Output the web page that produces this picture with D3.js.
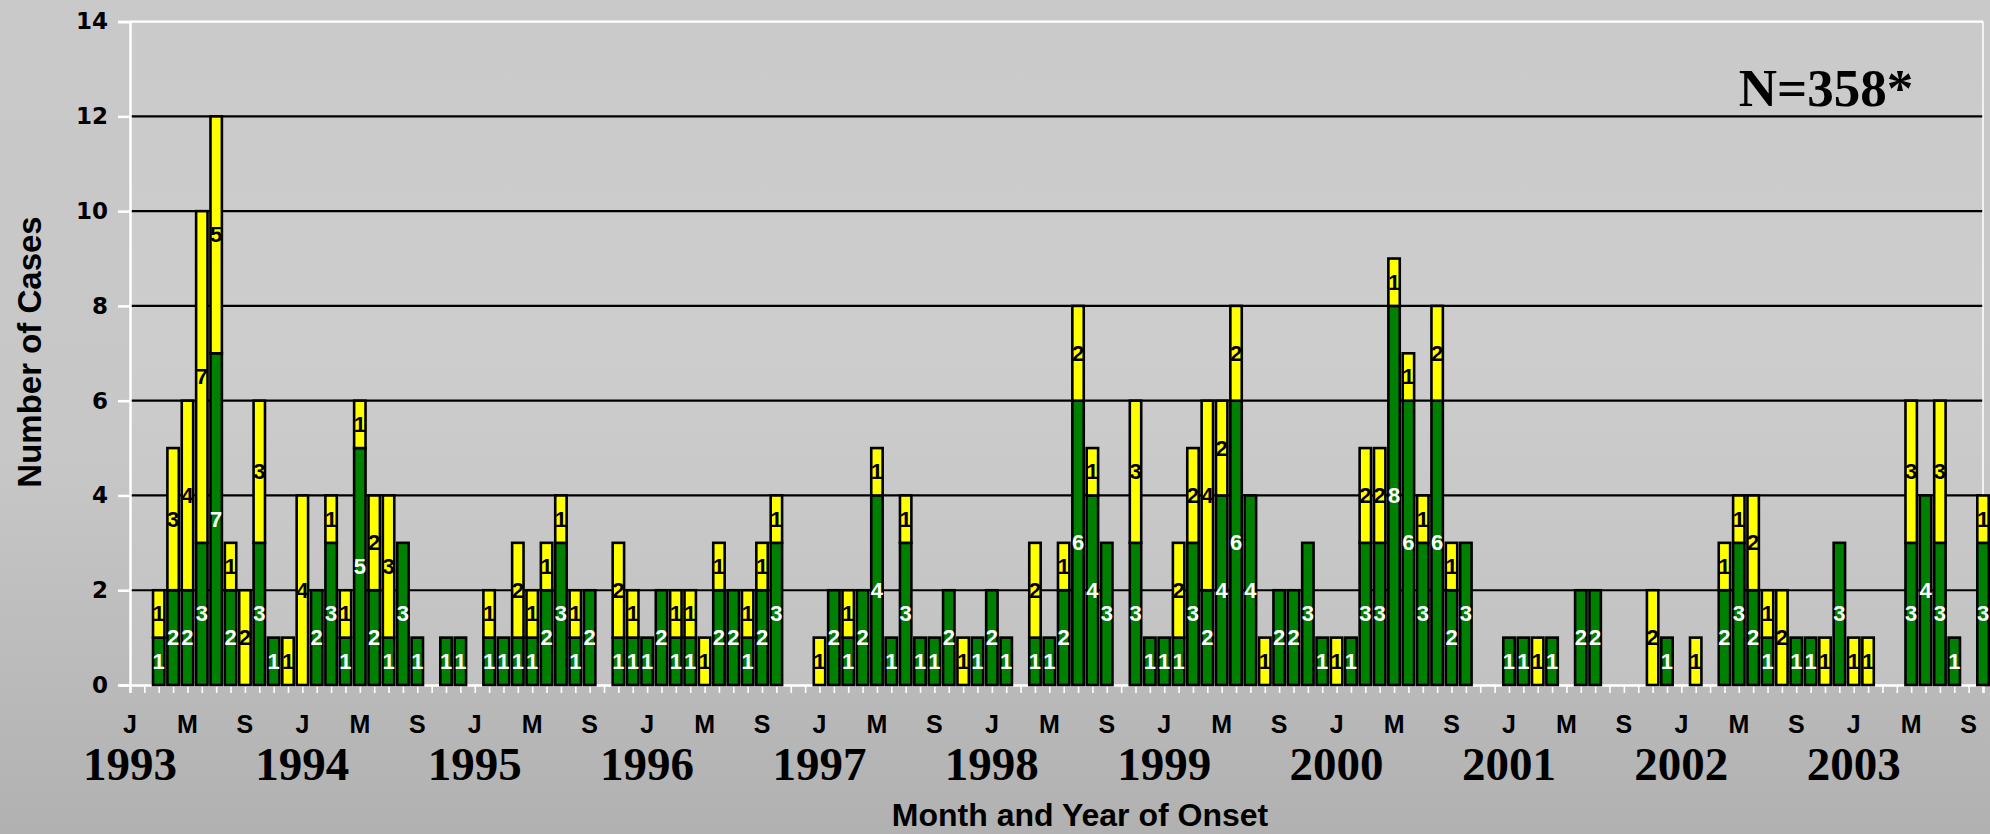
<!DOCTYPE html>
<html>
<head>
<meta charset="utf-8">
<script src="https://cdn.jsdelivr.net/npm/d3@7"></script>
<style>
  html, body { margin: 0; padding: 0; overflow: hidden; background: #c0c0c0; }
  svg { display: block; }
</style>
</head>
<body>
<svg id="chart" width="1990" height="834"></svg>
<script>
// Years covered by the monthly axis (Jan 1993 – Oct 2003)
const years = [1993, 1994, 1995, 1996, 1997, 1998, 1999, 2000, 2001, 2002, 2003];
const monthInitials = ["J", "F", "M", "A", "M", "J", "J", "A", "S", "O", "N", "D"];
const labelledMonths = [0, 4, 8];           // J, M, S are printed under the axis
const yTicks = [0, 2, 4, 6, 8, 10, 12, 14];
const totalNote = "N=358*";

// Cases per month, lower (green) segment
const greenCases = [
  0, 0, 1, 2, 2, 3, 7, 2, 0, 3, 1, 0,   // 1993
  0, 2, 3, 1, 5, 2, 1, 3, 1, 0, 1, 1,   // 1994
  0, 1, 1, 1, 1, 2, 3, 1, 2, 0, 1, 1,   // 1995
  1, 2, 1, 1, 0, 2, 2, 1, 2, 3, 0, 0,   // 1996
  0, 2, 1, 2, 4, 1, 3, 1, 1, 2, 0, 1,   // 1997
  2, 1, 0, 1, 1, 2, 6, 4, 3, 0, 3, 1,   // 1998
  1, 1, 3, 2, 4, 6, 4, 0, 2, 2, 3, 1,   // 1999
  0, 1, 3, 3, 8, 6, 3, 6, 2, 3, 0, 0,   // 2000
  1, 1, 0, 1, 0, 2, 2, 0, 0, 0, 0, 1,   // 2001
  0, 0, 0, 2, 3, 2, 1, 0, 1, 1, 0, 3,   // 2002
  0, 0, 0, 0, 3, 4, 3, 1, 0, 3          // 2003
];

// Cases per month, upper (yellow) segment
const yellowCases = [
  0, 0, 1, 3, 4, 7, 5, 1, 2, 3, 0, 1,   // 1993
  4, 0, 1, 1, 1, 2, 3, 0, 0, 0, 0, 0,   // 1994
  0, 1, 0, 2, 1, 1, 1, 1, 0, 0, 2, 1,   // 1995
  0, 0, 1, 1, 1, 1, 0, 1, 1, 1, 0, 0,   // 1996
  1, 0, 1, 0, 1, 0, 1, 0, 0, 0, 1, 0,   // 1997
  0, 0, 0, 2, 0, 1, 2, 1, 0, 0, 3, 0,   // 1998
  0, 2, 2, 4, 2, 2, 0, 1, 0, 0, 0, 0,   // 1999
  1, 0, 2, 2, 1, 1, 1, 2, 1, 0, 0, 0,   // 2000
  0, 0, 1, 0, 0, 0, 0, 0, 0, 0, 2, 0,   // 2001
  0, 1, 0, 1, 1, 2, 1, 2, 0, 0, 1, 0,   // 2002
  1, 1, 0, 0, 3, 0, 3, 0, 0, 1          // 2003
];

const monthKeys = greenCases.map((_, i) => `${years[0] + Math.floor(i / 12)}-${String(i % 12 + 1).padStart(2, "0")}`);
const rows = monthKeys.map((key, i) => ({ key, index: i, green: greenCases[i], yellow: yellowCases[i] }));

const W = 1990, H = 834;
const plot = { left: 130, right: 1983, top: 21.6, bottom: 685 };

const svg = d3.select("#chart");

// background gradient
const defs = svg.append("defs");
const bg = defs.append("linearGradient").attr("id", "bg").attr("x1", 0).attr("y1", 0).attr("x2", 0).attr("y2", 1);
bg.append("stop").attr("offset", "0%").attr("stop-color", "#c9c9c9");
bg.append("stop").attr("offset", "55%").attr("stop-color", "#c7c7c7");
bg.append("stop").attr("offset", "100%").attr("stop-color", "#b1b1b1");
svg.append("rect").attr("width", W).attr("height", H).attr("fill", "url(#bg)");

const pg = defs.append("linearGradient").attr("id", "plotbg").attr("x1", 0).attr("y1", 0).attr("x2", 0).attr("y2", 1);
pg.append("stop").attr("offset", "0%").attr("stop-color", "#cacaca");
pg.append("stop").attr("offset", "50%").attr("stop-color", "#cdcdcd");
pg.append("stop").attr("offset", "100%").attr("stop-color", "#c2c2c2");
svg.append("rect")
  .attr("x", plot.left).attr("y", plot.top)
  .attr("width", plot.right - plot.left).attr("height", plot.bottom - plot.top)
  .attr("fill", "url(#plotbg)");

const x = d3.scalePoint().domain(monthKeys).range([plot.left, plot.right]);
const y = d3.scaleLinear().domain([0, 14]).range([plot.bottom, plot.top]);

// horizontal gridlines (top border drawn in white)
svg.append("g").selectAll("line")
  .data(yTicks.filter(v => v > 0))
  .join("line")
  .attr("x1", plot.left).attr("x2", plot.right)
  .attr("y1", d => y(d)).attr("y2", d => y(d))
  .attr("stroke", d => d === 14 ? "#ffffff" : "#000000")
  .attr("stroke-width", 2.2);

// right border
svg.append("line")
  .attr("x1", plot.right).attr("x2", plot.right)
  .attr("y1", plot.top).attr("y2", plot.bottom)
  .attr("stroke", "#ffffff").attr("stroke-width", 1.5);

// y axis
const yAxis = svg.append("g")
  .attr("transform", `translate(${plot.left},0)`)
  .call(d3.axisLeft(y).tickValues(yTicks).tickSize(12).tickPadding(10).tickFormat(d3.format("d")));
yAxis.select(".domain").attr("stroke", "#ffffff").attr("stroke-width", 2.5);
yAxis.selectAll(".tick line").attr("stroke", "#ffffff").attr("stroke-width", 2.5);
yAxis.selectAll(".tick text")
  .attr("fill", "#000")
  .style("font-family", "'DejaVu Sans', sans-serif")
  .style("font-weight", "bold")
  .style("font-size", "23px");

// x axis: a tick at every month
const xAxis = svg.append("g")
  .attr("transform", `translate(0,${plot.bottom})`)
  .call(d3.axisBottom(x).tickSize(8).tickFormat(""));
xAxis.select(".domain").attr("stroke", "#ffffff").attr("stroke-width", 2.5);
xAxis.selectAll(".tick line").attr("stroke", "#ffffff").attr("stroke-width", 1.6);

// stacked bars
const barW = 11.4;
const bars = svg.append("g");
const segs = [];
rows.forEach(r => {
  if (r.green > 0) segs.push({ key: r.key, y0: 0, y1: r.green, v: r.green, kind: "green" });
  if (r.yellow > 0) segs.push({ key: r.key, y0: r.green, y1: r.green + r.yellow, v: r.yellow, kind: "yellow" });
});

bars.selectAll("rect")
  .data(segs)
  .join("rect")
  .attr("x", d => x(d.key) - barW / 2)
  .attr("width", barW)
  .attr("y", d => y(d.y1))
  .attr("height", d => y(d.y0) - y(d.y1))
  .attr("fill", d => d.kind === "green" ? "#008000" : "#ffff00")
  .attr("stroke", "#000")
  .attr("stroke-width", 2.6);

// segment value labels
svg.append("g").selectAll("text")
  .data(segs)
  .join("text")
  .attr("x", d => x(d.key))
  .attr("y", d => y((d.y0 + d.y1) / 2))
  .attr("text-anchor", "middle")
  .attr("dominant-baseline", "central")
  .attr("fill", d => d.kind === "green" ? "#ffffff" : "#000000")
  .style("font-family", "'Liberation Sans', Arial, sans-serif")
  .style("font-weight", "bold")
  .style("font-size", "22px")
  .text(d => d.v);

// month initials
const monthLabelRows = rows.filter(r => labelledMonths.includes(r.index % 12));
svg.append("g").selectAll("text")
  .data(monthLabelRows)
  .join("text")
  .attr("x", d => x(d.key))
  .attr("y", 733)
  .attr("text-anchor", "middle")
  .style("font-family", "'Liberation Sans', Arial, sans-serif")
  .style("font-weight", "bold")
  .style("font-size", "25px")
  .text(d => monthInitials[d.index % 12]);

// year labels under each January
svg.append("g").selectAll("text")
  .data(years)
  .join("text")
  .attr("x", d => x(`${d}-01`))
  .attr("y", 780)
  .attr("text-anchor", "middle")
  .style("font-family", "'Liberation Serif', 'Times New Roman', serif")
  .style("font-weight", "bold")
  .style("font-size", "47px")
  .text(d => d);

// axis titles
svg.append("text")
  .attr("x", 1080).attr("y", 826)
  .attr("text-anchor", "middle")
  .style("font-family", "'Liberation Sans', Arial, sans-serif")
  .style("font-weight", "bold")
  .style("font-size", "32px")
  .text("Month and Year of Onset");

svg.append("text")
  .attr("transform", "translate(41,352) rotate(-90)")
  .attr("text-anchor", "middle")
  .style("font-family", "'Liberation Sans', Arial, sans-serif")
  .style("font-weight", "bold")
  .style("font-size", "33px")
  .text("Number of Cases");

// total count note
svg.append("text")
  .attr("x", 1826).attr("y", 106)
  .attr("text-anchor", "middle")
  .style("font-family", "'Liberation Serif', 'Times New Roman', serif")
  .style("font-weight", "bold")
  .style("font-size", "53px")
  .text(totalNote);
</script>
</body>
</html>
